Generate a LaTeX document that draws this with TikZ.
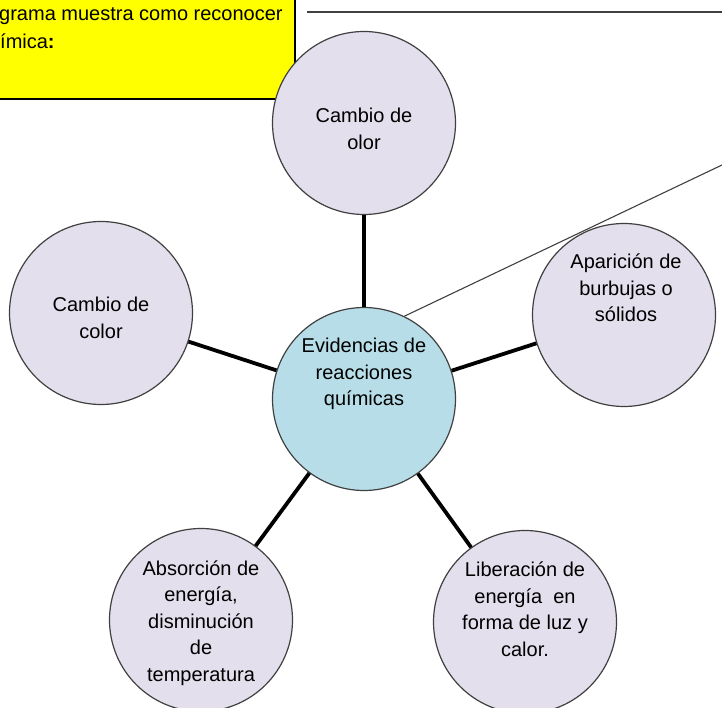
\documentclass[tikz,border=0pt]{standalone}
\usepackage{fontspec}
\setmainfont{Liberation Sans}
\usetikzlibrary{calc}
\definecolor{lavanda}{HTML}{E4DFEC}
\definecolor{celeste}{HTML}{B7DEE8}
\definecolor{borde}{HTML}{404040}
\definecolor{amarillo}{HTML}{FFFF00}

\begin{document}
\begin{tikzpicture}[x=1pt, y=1pt,
    burbuja/.style={circle, draw=borde, line width=1.2pt, fill=lavanda,
        minimum size=183pt, inner sep=0pt},
    centro/.style={burbuja, fill=celeste},
    texto/.style={align=center, inner sep=0pt,
        font=\fontsize{20}{26.5}\selectfont},
    rayo/.style={line width=3.8pt, black},
    guia/.style={line width=1.1pt, borde}]
    \useasboundingbox (0,0) rectangle (722,707);
    \clip (0,0) rectangle (722,707);

    % recuadro amarillo
    \fill[amarillo] (-20,608) rectangle (295,730);
    \draw[line width=1.2pt, black] (-20,608) -- (295,608) -- (295,730);
    \node[texto, anchor=base west] (nota-a) at (-1,686) {grama muestra como reconocer};
    \node[texto, anchor=base west] (nota-b) at (0,658) {ímica\textbf{:}};

    \coordinate (tope-a) at (307,695);
    \coordinate (tope-b) at (730,695);
    \draw[guia] (tope-a) -- (tope-b);

    % burbujas
    \node[centro] (ev) at (364,308) {};
    \node[burbuja] (olor) at (364,584) {};
    \node[burbuja] (color) at (101,394) {};
    \node[burbuja] (burb) at (624,392) {};
    \node[burbuja] (abs) at (201,87) {};
    \node[burbuja] (lib) at (525,85) {};

    \node[texto] (ev-t) at ($(ev)+(0,25)$) {Evidencias de\\reacciones\\químicas};
    \node[texto] (olor-t) at ($(olor)+(0,-6)$) {Cambio de\\olor};
    \node[texto] (color-t) at ($(color)+(0,-5)$) {Cambio de\\color};
    \node[texto] (burb-t) at ($(burb)+(2,27)$) {Aparición de\\burbujas o\\sólidos};
    \node[texto] (abs-t) at ($(abs)+(0,-3)$) {Absorción de\\energía,\\disminución\\de\\temperatura};
    \node[texto] (lib-t) at ($(lib)+(0,13)$) {Liberación de\\energía\ \ en\\forma de luz y\\calor.};

    % conectores
    \draw[rayo] (ev) -- (olor);
    \draw[rayo] (ev) -- (color);
    \draw[rayo] (ev) -- (burb);
    \draw[rayo] (ev) -- (abs);
    \draw[rayo] (ev) -- (lib);

    \coordinate (fin) at (722,542);
    \draw[guia] (ev.64) -- (fin);
\end{tikzpicture}
\end{document}
